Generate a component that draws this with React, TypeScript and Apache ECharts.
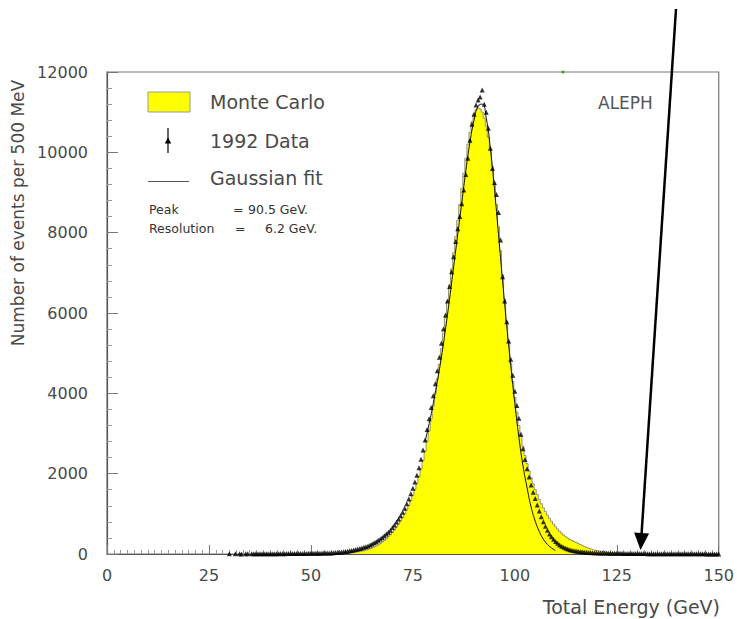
import React, { useEffect, useRef } from "react";
import * as echarts from "echarts";

// ---- Data (500 MeV bins) ----
const DATA_START = 30; // GeV, centre of first data bin
const BIN_WIDTH = 0.5; // GeV
const DATA_COUNTS = [
  4, 0, 0, 5, 0, 6, 3, 0, 5, 4,
  0, 6, 5, 7, 4, 6, 8, 5, 7, 6,
  8, 7, 9, 6, 8, 10, 9, 8, 11, 10,
  12, 11, 10, 13, 12, 14, 13, 15, 14, 16,
  16, 18, 17, 19, 21, 20, 22, 24, 23, 26,
  28, 31, 35, 39, 44, 49, 55, 62, 70, 78,
  88, 98, 110, 122, 136, 150, 166, 183, 202, 225,
  250, 278, 308, 340, 375, 412, 452, 495, 542, 592,
  660, 725, 795, 870, 950, 1040, 1140, 1250, 1370, 1500,
  1640, 1790, 1960, 2150, 2360, 2590, 2840, 3100, 3370, 3650,
  3940, 4240, 4560, 4900, 5250, 5600, 5950, 6300, 6660, 7030,
  7400, 7780, 8100, 8400, 8720, 9060, 9450, 9850, 10300, 10700,
  10950, 11180, 11300, 11380, 11550, 11200, 11000, 10600, 10100, 9600,
  9250, 8950, 8500, 7820, 6900, 6300, 5780, 5300, 4850, 4450,
  4050, 3700, 3380, 2980, 2620, 2350, 2120, 1920, 1720, 1540,
  1380, 1220, 1070, 930, 800, 690, 590, 500, 430, 365,
  310, 265, 225, 192, 165, 142, 123, 107, 94, 83,
  74, 66, 59, 53, 48, 44, 40, 37, 34, 32,
  30, 28, 26, 25, 23, 22, 21, 20, 19, 18,
  17, 16, 16, 15, 14, 14, 13, 13, 12, 12,
  11, 11, 10, 10, 10, 9, 9, 9, 8, 8,
  8, 8, 7, 7, 7, 7, 6, 6, 6, 6,
  6, 5, 5, 5, 5, 5, 5, 4, 4, 4,
  4, 4, 4, 4, 3, 3, 3, 3, 3, 3,
  3,
];

const MC_START = 55; // GeV
const MC_COUNTS = [
  4, 5, 6, 8, 10, 12, 15, 18, 22, 26,
  31, 37, 44, 52, 61, 72, 84, 98, 114, 132,
  152, 175, 200, 228, 260, 296, 336, 380, 428, 480,
  540, 600, 670, 745, 825, 910, 1000, 1100, 1210, 1330,
  1460, 1600, 1760, 1930, 2120, 2330, 2560, 2810, 3080, 3370,
  3680, 4010, 4360, 4730, 5110, 5500, 5900, 6300, 6700, 7100,
  7500, 7900, 8300, 8700, 9100, 9480, 9850, 10200, 10500, 10760,
  10950, 11060, 11100, 11080, 11000, 10850, 10650, 10380, 10050, 9650,
  9200, 8700, 8150, 7550, 6950, 6350, 5800, 5250, 4750, 4300,
  3900, 3530, 3200, 2930, 2680, 2450, 2250, 2070, 1900, 1750,
  1610, 1480, 1360, 1250, 1150, 1060, 970, 890, 815, 745,
  680, 620, 565, 515, 470, 430, 395, 362, 335, 312,
  290, 265, 240, 215, 190, 170, 150, 130, 115, 100,
  88, 76, 66, 57, 49, 42, 36, 31, 27, 23,
  20, 17, 15, 13, 11, 9, 8, 7, 6, 5,
  4,
];

const FIT_START = 78; // GeV, 1 GeV steps
const FIT_STEP = 1;
const FIT_VALUES = [
  2800, 3250, 3750, 4300, 4900, 5600, 6350, 7150, 7950, 8750,
  9550, 10250, 10800, 11150, 11200, 10850, 10100, 9100, 7950, 6800,
  5700, 4700, 3750, 2900, 2200, 1650, 1170, 820, 560, 370,
  240, 150, 90,
];

const X_TICKS = [0, 25, 50, 75, 100, 125, 150];
const Y_TICKS = [0, 2000, 4000, 6000, 8000, 10000, 12000];

const LEGEND_LABELS = ["Monte Carlo", "1992 Data", "Gaussian fit"];
const FIT_TEXT = [
  ["Peak", "=", "90.5 GeV."],
  ["Resolution", "=", "6.2 GeV."],
];
const EXPERIMENT = "ALEPH";
const X_NAME = "Total Energy (GeV)";
const Y_NAME = "Number of events per 500 MeV";

const FONT = "DejaVu Sans";
const TEXT_COLOR = "#4a4a4a";

export default function App() {
  const ref = useRef<HTMLDivElement>(null);

  useEffect(() => {
    if (!ref.current) return;
    const chart = echarts.init(ref.current, undefined, { renderer: "svg" });

    const dataPts = DATA_COUNTS.map((v, i) => [DATA_START + i * BIN_WIDTH, v]).filter(
      (p) => p[1] > 0
    );
    const mcPts = MC_COUNTS.map((v, i) => [MC_START + i * BIN_WIDTH, v]);
    const fitPts = FIT_VALUES.map((v, i) => [FIT_START + i * FIT_STEP, v]);

    // arrow geometry (annotation)
    const tail = [676, 9];
    const tip = [640.5, 550];
    const dx = tip[0] - tail[0];
    const dy = tip[1] - tail[1];
    const len = Math.sqrt(dx * dx + dy * dy);
    const ux = dx / len;
    const uy = dy / len;
    const headL = 17;
    const headW = 7.5;
    const bx = tip[0] - ux * headL;
    const by = tip[1] - uy * headL;

    const smallText = (text: string, x: number, y: number) => ({
      type: "text",
      x,
      y,
      style: { text, font: `12.5px "${FONT}"`, fill: "#333", verticalAlign: "middle" },
    });
    const legendText = (text: string, y: number) => ({
      type: "text",
      x: 210,
      y,
      style: { text, font: `19px "${FONT}"`, fill: TEXT_COLOR, verticalAlign: "middle" },
    });

    chart.setOption({
      animation: false,
      backgroundColor: "#fff",
      grid: {
        left: 107,
        right: 17,
        top: 72,
        bottom: 65,
        show: true,
        borderColor: "#777",
        borderWidth: 1.2,
      },
      xAxis: {
        type: "value",
        min: X_TICKS[0],
        max: X_TICKS[X_TICKS.length - 1],
        interval: X_TICKS[1] - X_TICKS[0],
        axisLine: { show: true, lineStyle: { color: "#555", width: 1.2 } },
        axisTick: { show: true, inside: true, length: 9, lineStyle: { color: "#777" } },
        minorTick: { show: true, splitNumber: 15, length: 4, lineStyle: { color: "#999" } },
        splitLine: { show: false },
        axisLabel: {
          margin: 13,
          fontSize: 16,
          fontFamily: FONT,
          color: TEXT_COLOR,
          formatter: (v: number) => String(v),
        },
      },
      yAxis: {
        type: "value",
        min: Y_TICKS[0],
        max: Y_TICKS[Y_TICKS.length - 1],
        interval: Y_TICKS[1] - Y_TICKS[0],
        axisLine: { show: true, lineStyle: { color: "#555", width: 1.2 } },
        axisTick: { show: true, inside: true, length: 11, lineStyle: { color: "#777" } },
        minorTick: { show: true, splitNumber: 5, length: 5, lineStyle: { color: "#999" } },
        splitLine: { show: false },
        axisLabel: {
          margin: 19,
          fontSize: 16,
          fontFamily: FONT,
          color: TEXT_COLOR,
          formatter: (v: number) => String(v),
        },
      },
      series: [
        {
          name: "Monte Carlo",
          type: "line",
          step: "middle",
          data: mcPts,
          showSymbol: false,
          symbol: "none",
          lineStyle: { color: "#777", width: 0.8 },
          areaStyle: { color: "#ffff00", opacity: 1 },
          z: 1,
        },
        {
          name: "Gaussian fit",
          type: "line",
          smooth: true,
          data: fitPts,
          symbol: "none",
          lineStyle: { color: "#111", width: 1 },
          z: 2,
        },
        {
          name: "1992 Data",
          type: "scatter",
          data: dataPts,
          symbol: "triangle",
          symbolSize: 5,
          itemStyle: { color: "#000" },
          z: 3,
        },
      ],
      graphic: [
        // legend
        {
          type: "rect",
          shape: { x: 148, y: 92, width: 42, height: 20 },
          style: { fill: "#ffff00", stroke: "#999", lineWidth: 1 },
        },
        legendText(LEGEND_LABELS[0], 102),
        {
          type: "line",
          shape: { x1: 168, y1: 128, x2: 168, y2: 153 },
          style: { stroke: "#000", lineWidth: 1.2 },
        },
        {
          type: "polygon",
          shape: { points: [[164.8, 143.5], [171.2, 143.5], [168, 137.5]] },
          style: { fill: "#000" },
        },
        legendText(LEGEND_LABELS[1], 141),
        {
          type: "line",
          shape: { x1: 148, y1: 181.5, x2: 189, y2: 181.5 },
          style: { stroke: "#555", lineWidth: 1 },
        },
        legendText(LEGEND_LABELS[2], 178),
        // fit results
        smallText(FIT_TEXT[0][0], 149, 209),
        smallText(FIT_TEXT[0][1], 233, 209),
        smallText(FIT_TEXT[0][2], 248, 209),
        smallText(FIT_TEXT[1][0], 149, 228),
        smallText(FIT_TEXT[1][1], 235, 228),
        smallText(FIT_TEXT[1][2], 265, 228),
        // experiment label
        {
          type: "text",
          x: 598,
          y: 103,
          style: {
            text: EXPERIMENT,
            font: `17px "${FONT}"`,
            fill: "#555",
            verticalAlign: "middle",
          },
        },
        // axis names
        {
          type: "text",
          x: 720,
          y: 607,
          style: {
            text: X_NAME,
            font: `19px "${FONT}"`,
            fill: TEXT_COLOR,
            align: "right",
            verticalAlign: "middle",
          },
        },
        {
          type: "text",
          x: 18,
          y: 213,
          rotation: Math.PI / 2,
          style: {
            text: Y_NAME,
            font: `17px "${FONT}"`,
            fill: TEXT_COLOR,
            align: "center",
            verticalAlign: "middle",
          },
        },
        // small green mark on top frame
        {
          type: "circle",
          shape: { cx: 563, cy: 72, r: 1.5 },
          style: { fill: "#1a1" },
          z: 10,
        },
        // arrow
        {
          type: "line",
          shape: { x1: tail[0], y1: tail[1], x2: bx, y2: by },
          style: { stroke: "#000", lineWidth: 2.5 },
          z: 20,
        },
        {
          type: "polygon",
          shape: {
            points: [
              [tip[0], tip[1]],
              [bx - uy * headW, by + ux * headW],
              [bx + uy * headW, by - ux * headW],
            ],
          },
          style: { fill: "#000" },
          z: 20,
        },
      ],
    });

    return () => chart.dispose();
  }, []);

  return (
    <div
      ref={ref}
      style={{ position: "absolute", left: 0, top: 0, width: 737, height: 619 }}
    />
  );
}
